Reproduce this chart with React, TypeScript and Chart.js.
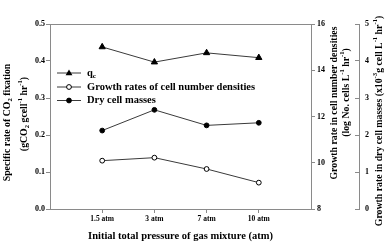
import React, { useEffect, useRef } from "react";
import { Chart, registerables } from "chart.js";

Chart.register(...registerables);

const categories = ["1.5 atm", "3 atm", "7 atm", "10 atm"];
const qcValues = [0.438, 0.397, 0.422, 0.409];
const growthNumberValues = [10.09, 10.22, 9.73, 9.14];
const dryMassValues = [2.12, 2.68, 2.26, 2.33];

const legendLabels = ["q|c", "Growth rates of cell number densities", "Dry cell masses"];

const FONT = "'Liberation Serif', 'Times New Roman', serif";
const AXIS = "#8a8a8a";
const LINE = "#3a3a3a";

type Seg = { t: string; sub?: boolean; sup?: boolean };

function drawRich(
  ctx: CanvasRenderingContext2D,
  segs: Seg[],
  x: number,
  y: number,
  rot: number,
  size: number,
  align: "center" | "left" = "center"
) {
  ctx.save();
  ctx.translate(x, y);
  ctx.rotate(rot);
  ctx.textBaseline = "middle";
  ctx.textAlign = "left";
  ctx.fillStyle = "#000";
  const fontOf = (s: Seg) => `bold ${s.sub || s.sup ? size * 0.68 : size}px ${FONT}`;
  let total = 0;
  for (const s of segs) {
    ctx.font = fontOf(s);
    total += ctx.measureText(s.t).width;
  }
  let cx = align === "center" ? -total / 2 : 0;
  for (const s of segs) {
    ctx.font = fontOf(s);
    const dy = s.sub ? size * 0.32 : s.sup ? -size * 0.38 : 0;
    ctx.fillText(s.t, cx, dy);
    cx += ctx.measureText(s.t).width;
  }
  ctx.restore();
}

const leftTitle1: Seg[] = [{ t: "Specific rate of CO" }, { t: "2", sub: true }, { t: " fixation" }];
const leftTitle2: Seg[] = [
  { t: "(gCO" },
  { t: "2", sub: true },
  { t: " gcell" },
  { t: "-1", sup: true },
  { t: " hr" },
  { t: "-1", sup: true },
  { t: ")" },
];
const r1Title1: Seg[] = [{ t: "Growth rate in cell number densities" }];
const r1Title2: Seg[] = [
  { t: "(log No. cells L" },
  { t: "-1", sup: true },
  { t: " hr" },
  { t: "-1", sup: true },
  { t: ")" },
];
const r2Title: Seg[] = [
  { t: "Growth rate in dry cell masses (x10" },
  { t: "-3", sup: true },
  { t: "g cell L" },
  { t: "-1", sup: true },
  { t: " hr" },
  { t: "-1", sup: true },
  { t: ")" },
];

function drawMarker(ctx: CanvasRenderingContext2D, kind: string, x: number, y: number) {
  ctx.save();
  ctx.strokeStyle = "#000";
  ctx.lineWidth = 1;
  if (kind === "triangle") {
    const r = 3.6;
    ctx.beginPath();
    ctx.moveTo(x, y - r);
    ctx.lineTo(x + r * 0.95, y + r * 0.6);
    ctx.lineTo(x - r * 0.95, y + r * 0.6);
    ctx.closePath();
    ctx.fillStyle = "#000";
    ctx.fill();
  } else {
    ctx.beginPath();
    ctx.arc(x, y, 2.4, 0, Math.PI * 2);
    ctx.fillStyle = kind === "open" ? "#fff" : "#000";
    ctx.fill();
    ctx.stroke();
  }
  ctx.restore();
}

const decorPlugin = {
  id: "decor",
  afterDraw(chart: any) {
    const ctx: CanvasRenderingContext2D = chart.ctx;
    const a = chart.chartArea;
    ctx.save();
    ctx.strokeStyle = AXIS;
    ctx.lineWidth = 1;
    ctx.beginPath();
    ctx.moveTo(a.left, Math.round(a.top) + 0.5);
    ctx.lineTo(a.right, Math.round(a.top) + 0.5);
    ctx.stroke();
    ctx.restore();

    const rot = -Math.PI / 2;
    drawRich(ctx, leftTitle1, 7, 122.5, rot, 9.8);
    drawRich(ctx, leftTitle2, 24.5, 114, rot, 9.8);
    drawRich(ctx, r1Title1, 334, 103, rot, 9.8);
    drawRich(ctx, r1Title2, 346, 92.5, rot, 9.8);
    drawRich(ctx, r2Title, 379, 121, rot, 9.8);

    const kinds = ["triangle", "open", "filled"];
    const rows = [73, 87, 100.5];
    legendLabels.forEach((lab, i) => {
      const y = rows[i];
      ctx.save();
      ctx.strokeStyle = LINE;
      ctx.lineWidth = 1;
      ctx.beginPath();
      ctx.moveTo(57, y);
      ctx.lineTo(81, y);
      ctx.stroke();
      ctx.restore();
      drawMarker(ctx, kinds[i], 69, y);
      const parts = lab.split("|");
      const segs: Seg[] = parts.length > 1 ? [{ t: parts[0] }, { t: parts[1], sub: true }] : [{ t: lab }];
      drawRich(ctx, segs, 87, y, 0, 10.5, "left");
    });
  },
};

export default function App() {
  const ref = useRef<HTMLCanvasElement | null>(null);

  useEffect(() => {
    if (!ref.current) return;
    const tickFont = { family: FONT, size: 8, weight: "bold" as const };
    const chart = new Chart(ref.current, {
      type: "line",
      data: {
        datasets: [
          {
            label: "qc",
            data: qcValues.map((v, i) => ({ x: i + 1, y: v })),
            yAxisID: "y",
            borderColor: LINE,
            borderWidth: 1,
            pointStyle: "triangle",
            pointRadius: 3.6,
            pointBackgroundColor: "#000",
            pointBorderColor: "#000",
            pointBorderWidth: 1,
          },
          {
            label: "Growth rates of cell number densities",
            data: growthNumberValues.map((v, i) => ({ x: i + 1, y: v })),
            yAxisID: "y2",
            borderColor: LINE,
            borderWidth: 1,
            pointStyle: "circle",
            pointRadius: 2.4,
            pointBackgroundColor: "#fff",
            pointBorderColor: "#000",
            pointBorderWidth: 1,
          },
          {
            label: "Dry cell masses",
            data: dryMassValues.map((v, i) => ({ x: i + 1, y: v })),
            yAxisID: "y3",
            borderColor: LINE,
            borderWidth: 1,
            pointStyle: "circle",
            pointRadius: 2.4,
            pointBackgroundColor: "#000",
            pointBorderColor: "#000",
            pointBorderWidth: 1,
          },
        ],
      },
      options: {
        animation: false,
        responsive: true,
        maintainAspectRatio: false,
        layout: { padding: { top: 24, left: 0, right: 0, bottom: 0 } },
        plugins: { legend: { display: false }, tooltip: { enabled: false } },
        scales: {
          x: {
            type: "linear",
            position: "bottom",
            min: 0,
            max: 5,
            afterBuildTicks: (s: any) => {
              s.ticks = categories.map((_, i) => ({ value: i + 1 }));
            },
            afterFit: (s: any) => {
              s.height = 35;
            },
            ticks: {
              callback: (v: any) => categories[Number(v) - 1] ?? "",
              font: { family: FONT, size: 7.5, weight: "bold" },
              color: "#000",
              padding: 2,
              maxRotation: 0,
              autoSkip: false,
            },
            grid: { drawOnChartArea: false, tickLength: 4, color: AXIS },
            border: { color: AXIS },
            title: {
              display: true,
              text: "Initial total pressure of gas mixture (atm)",
              font: { family: FONT, size: 10.5, weight: "bold" },
              color: "#000",
              padding: { top: 0, bottom: 1 },
            },
          },
          y: {
            position: "left",
            min: 0,
            max: 0.5,
            afterFit: (s: any) => {
              s.width = 50;
            },
            ticks: {
              stepSize: 0.1,
              callback: (v: any) => Number(v).toFixed(1),
              font: tickFont,
              color: "#000",
              padding: 1,
            },
            grid: { drawOnChartArea: false, tickLength: 4, color: AXIS },
            border: { color: AXIS },
          },
          y2: {
            position: "right",
            min: 8,
            max: 16,
            weight: 0,
            afterFit: (s: any) => {
              s.width = 48;
            },
            ticks: { stepSize: 2, font: tickFont, color: "#000", padding: 2 },
            grid: { drawOnChartArea: false, tickLength: 4, color: AXIS },
            border: { color: AXIS },
          },
          y3: {
            position: "right",
            min: 0,
            max: 5,
            weight: 1,
            afterFit: (s: any) => {
              s.width = 26;
            },
            ticks: { stepSize: 1, font: tickFont, color: "#000", padding: 10 },
            grid: { drawOnChartArea: false, tickLength: -4, color: AXIS },
            border: { color: AXIS },
          },
        },
      } as any,
      plugins: [decorPlugin],
    });
    return () => chart.destroy();
  }, []);

  return (
    <div style={{ position: "absolute", left: 0, top: 0, width: 385, height: 244, background: "#fff" }}>
      <canvas ref={ref} />
    </div>
  );
}
